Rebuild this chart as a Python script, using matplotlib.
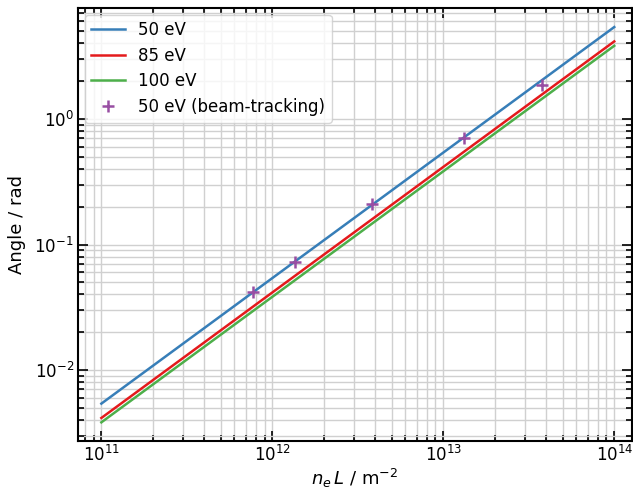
import matplotlib
matplotlib.use("Agg")
import matplotlib.pyplot as plt
import numpy as np

x_line = [1e11, 1e14]
angle_50 = [5.4e-3, 5.4]
angle_85 = [4.15e-3, 4.15]
angle_100 = [3.83e-3, 3.83]

bt_x = [7.7e11, 1.35e12, 3.83e12, 1.33e13, 3.78e13]
bt_y = [0.0418, 0.0726, 0.209, 0.706, 1.87]

plt.rcParams['font.family'] = ['DejaVu Sans']
fig = plt.figure(figsize=(6.33, 4.9), dpi=100)
ax = fig.add_axes([78/633, 1-441/490, (632-78)/633, (441-8)/490])

ax.plot(x_line, angle_50, color='#377eb8', lw=1.8, label='50 eV')
ax.plot(x_line, angle_85, color='#e41a1c', lw=1.8, label='85 eV')
ax.plot(x_line, angle_100, color='#4daf4a', lw=1.8, label='100 eV')
ax.plot(bt_x, bt_y, ls='none', marker='+', ms=9, mew=1.8, color='#984ea3',
        label='50 eV (beam-tracking)')

ax.set_xscale('log')
ax.set_yscale('log')
ax.set_xlim(7.3e10, 1.27e14)
ax.set_ylim(2.72e-3, 7.66)

ax.grid(True, which='major', color='#d0d0d0', lw=1.0)
ax.grid(True, which='minor', color='#d0d0d0', lw=1.0)
ax.set_axisbelow(True)

ax.tick_params(which='both', direction='in', top=True, right=True, labelsize=12, width=1.2)
ax.tick_params(which='major', length=7, pad=3)
ax.tick_params(which='minor', length=4)
for s in ax.spines.values():
    s.set_linewidth(1.5)

ax.set_xlabel(r'$n_e\,L$ / m$^{-2}$', fontsize=13, labelpad=1)
ax.set_ylabel('Angle / rad', fontsize=13, labelpad=6)

leg = ax.legend(loc='upper left', fontsize=12, framealpha=0.8, edgecolor='#cccccc',
                labelspacing=0.45, borderaxespad=0.4)

fig.savefig('out.png', dpi=100)
